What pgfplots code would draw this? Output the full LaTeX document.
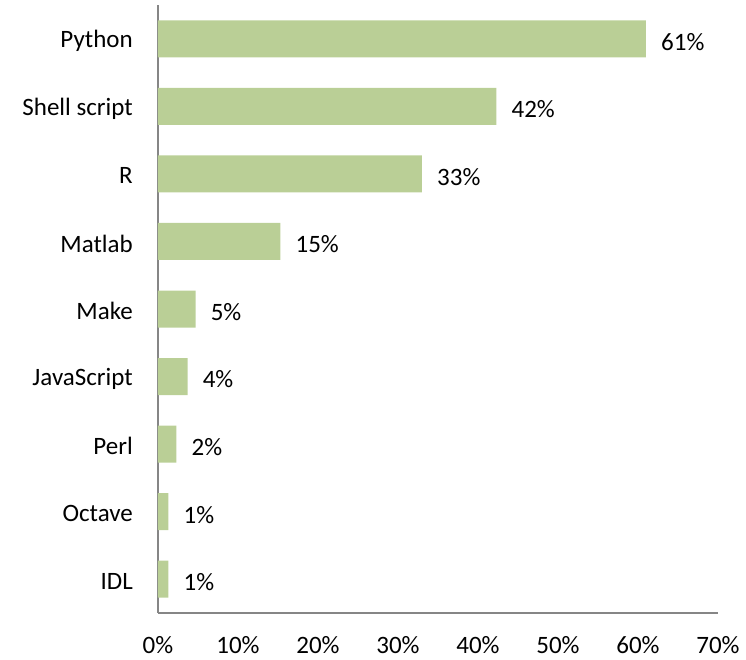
\documentclass[border=0pt]{standalone}
\usepackage{pgfplots}
\pgfplotsset{compat=1.18}
\usepackage{fontspec}
\setmainfont{Carlito}
\definecolor{barfill}{RGB}{186,207,150}
\definecolor{axisgray}{RGB}{134,134,134}
\begin{document}
\begin{tikzpicture}
% page size (746 x 659)
\path[use as bounding box] (-158pt,-46pt) rectangle (588pt,613pt);
\begin{axis}[
    at={(0,0)}, anchor=south west,
    scale only axis, width=560pt, height=608pt,
    xbar, bar width=37pt,
    xmin=0, xmax=70, ymin=-0.5, ymax=8.5, y dir=reverse,
    ytick={0,...,8},
    yticklabels={Python,Shell script,R,Matlab,Make,JavaScript,Perl,Octave,IDL},
    xtick={0,10,...,70},
    xticklabels={0\%,10\%,20\%,30\%,40\%,50\%,60\%,70\%},
    axis x line=bottom, axis y line=left,
    axis line style={axisgray, line width=1.5pt, -},
    major tick length=0pt, tick style={draw=none},
    xticklabel style={inner sep=0pt, anchor=north, yshift=-23pt, font=\fontsize{25}{29}\selectfont},
    yticklabel style={inner sep=0pt, anchor=east, xshift=-25pt, yshift=-2pt, font=\fontsize{25}{29}\selectfont},
    point meta=explicit symbolic,
    nodes near coords={\pgfplotspointmeta\%},
    nodes near coords style={anchor=west, inner sep=0pt, xshift=15pt, yshift=-3pt, font=\fontsize{25}{29}\selectfont},
    clip=false,
]
\addplot[fill=barfill, draw=none] coordinates {
    (61.0,0) [61]
    (42.3,1) [42]
    (33.0,2) [33]
    (15.3,3) [15]
    (4.7,4) [5]
    (3.7,5) [4]
    (2.3,6) [2]
    (1.3,7) [1]
    (1.3,8) [1]
};
\end{axis}
\end{tikzpicture}
\end{document}
